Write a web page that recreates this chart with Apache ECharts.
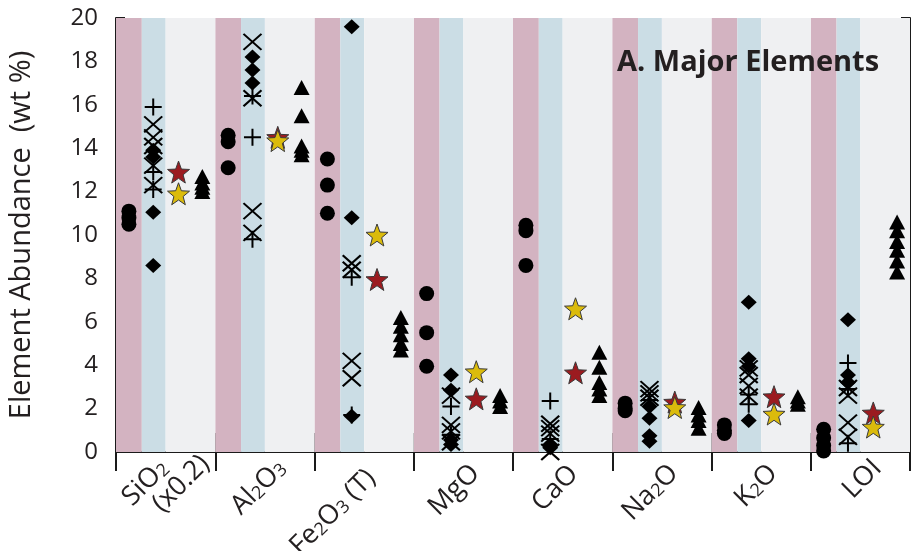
<!DOCTYPE html>
<html>
<head>
<meta charset="utf-8">
<script src="https://cdn.jsdelivr.net/npm/echarts@6/dist/echarts.min.js"></script>
<style>html,body{margin:0;padding:0;background:#fff}#c{width:911px;height:551px}</style>
</head>
<body>
<div id="c"></div>
<script>
// ---- data ----
const categories = ['SiO2 (x0.2)', 'Al2O3', 'Fe2O3 (T)', 'MgO', 'CaO', 'Na2O', 'K2O', 'LOI'];
const categoryLabels = ['SiO{s|2}{g44| }\n(x0.2){g12| }', 'Al{s|2}O{s|3}{g31| }', 'Fe{s|2}O{s|3} (T){g45| }', 'MgO{g38| }', 'CaO{g39| }', 'Na{s|2}O{g38| }', 'K{s|2}O{g38| }', 'LOI{g31| }'];
const yTicks = [0, 2, 4, 6, 8, 10, 12, 14, 16, 18, 20];
const circleVals = [
  [11.1, 10.8, 10.5],
  [14.6, 14.3, 13.1],
  [13.5, 12.3, 11.0],
  [7.3, 5.5, 3.95],
  [10.45, 10.2, 8.6],
  [2.25, 2.0, 1.9],
  [1.25, 1.0, 0.85],
  [1.05, 0.65, 0.3, 0.05]
];
const diamondVals = [
  [13.9, 13.6, 11.05, 8.6],
  [18.2, 17.6, 17.0],
  [19.6, 10.8, 1.65],
  [3.55, 2.85, 0.55, 0.35],
  [0.35, 0.2],
  [2.1, 1.55, 0.75, 0.5],
  [6.9, 4.3, 3.95, 1.45],
  [6.1, 3.55, 3.2]
];
const plusVals = [
  [15.9, 12.9, 12.1],
  [16.4, 14.5, 9.8],
  [8.05, 1.7],
  [2.1, 0.8],
  [2.35, 0.6],
  [2.4],
  [2.65, 2.2],
  [4.1, 2.9, 0.4]
];
const crossVals = [
  [15.1, 14.5, 14.1, 13.2, 12.3],
  [18.9, 16.3, 11.1, 10.1],
  [8.7, 8.4, 4.2, 3.4],
  [2.6, 1.25, 0.95, 0.45],
  [1.3, 1.1, 0.85, 0.0],
  [2.9, 2.7, 2.5],
  [3.85, 3.55, 3.05, 2.55],
  [2.95, 2.6, 1.35, 0.7]
];
const redStarVals = [12.9, 14.5, 7.95, 2.45, 3.65, 2.3, 2.55, 1.8];
const yellowStarVals = [11.9, 14.35, 10.0, 3.7, 6.6, 2.05, 1.75, 1.15];
const triangleVals = [
  [12.7, 12.4, 12.2, 12.0],
  [16.8, 15.5, 14.1, 13.9, 13.7],
  [6.2, 5.8, 5.4, 5.0, 4.7],
  [2.6, 2.35, 2.1],
  [4.6, 3.9, 3.2, 2.9, 2.6],
  [2.05, 1.7, 1.45, 1.1],
  [2.55, 2.35, 2.2],
  [10.6, 10.2, 9.7, 9.3, 8.8, 8.3]
];

// ---- layout helpers ----
const OFF = { circle: 0.13, blue: 0.375, star: 0.63, tri: 0.87 };
function pts(arr, off) {
  const out = [];
  arr.forEach((vals, i) => vals.forEach(v => out.push([i + off, v])));
  return out;
}
function pts1(arr, off) { return arr.map((v, i) => [i + off, v]); }

const pinkAreas = categories.map((c, i) => [{ xAxis: i }, { xAxis: i + 0.26 }]);
const blueAreas = categories.map((c, i) => [{ xAxis: i + 0.26 }, { xAxis: i + 0.5 }]);
const grayAreas = categories.map((c, i) => [{ xAxis: i + 0.5 }, { xAxis: i + 1 }]);

const starPath = 'path://M50,0 L62.3,32.9 L97.6,34.5 L70,56.5 L79.4,90.5 L50,71 L20.6,90.5 L30,56.5 L2.4,34.5 L37.7,32.9 Z';
const plusPath = 'path://M0,50 L100,50 M50,0 L50,100';
const crossPath = 'path://M0,0 L100,100 M100,0 L0,100';

const FONT = 'Open Sans';
const TXT = '#231f20';

const gapStyles = {};
[12, 31, 38, 39, 44, 45].forEach(w => { gapStyles['g' + w] = { width: w, fontSize: 27 }; });

const chart = echarts.init(document.getElementById('c'), null, { renderer: 'canvas' });
const axisLine = { show: true, lineStyle: { color: '#1a1a1a', width: 2 } };

chart.setOption({
  backgroundColor: '#ffffff',
  animation: false,
  textStyle: { fontFamily: FONT },
  title: {
    text: 'A. Major Elements',
    left: 612, top: 43,
    textStyle: { fontFamily: FONT, fontWeight: 'bold', fontSize: 29, color: TXT }
  },
  grid: { left: 116, right: 1, top: 18, bottom: 99, containLabel: false, outerBoundsMode: 'none' },
  xAxis: [
    {
      type: 'category', data: categories, position: 'bottom',
      boundaryGap: true,
      axisLine: axisLine,
      axisTick: { show: true, inside: true, length: 19, lineStyle: { color: '#1a1a1a', width: 2 } },
      splitLine: { show: false },
      axisLabel: {
        rotate: 45, margin: 29, fontSize: 27, lineHeight: 26, color: TXT, fontFamily: FONT,
        interval: 0, padding: [0, -55, 0, 0], hideOverlap: false,
        formatter: (v, i) => categoryLabels[i],
        rich: Object.assign({
          s: { fontSize: 18, color: TXT, fontFamily: FONT, verticalAlign: 'bottom', padding: [14, 0, 0, 0] }
        }, gapStyles)
      }
    },
    {
      type: 'value', position: 'top', min: 0, max: 8, interval: 1,
      axisLine: axisLine,
      axisTick: { show: true, inside: true, length: 19, lineStyle: { color: '#1a1a1a', width: 2 } },
      axisLabel: { show: false },
      splitLine: { show: false }
    }
  ],
  yAxis: [
    {
      type: 'value', min: 0, max: 20, interval: 2, position: 'left',
      name: 'Element Abundance  (wt %)', nameLocation: 'middle', nameGap: 80,
      nameTextStyle: { fontSize: 29, color: TXT, fontFamily: FONT },
      axisLine: axisLine,
      axisTick: { show: true, inside: true, length: 9, lineStyle: { color: '#1a1a1a', width: 2 } },
      axisLabel: { fontSize: 24, color: TXT, margin: 18, fontFamily: FONT,
        formatter: v => yTicks.indexOf(v) >= 0 ? String(v) : '' },
      splitLine: { show: false }
    },
    {
      type: 'value', min: 0, max: 20, interval: 2, position: 'right',
      axisLine: axisLine,
      axisTick: { show: true, inside: true, length: 9, lineStyle: { color: '#1a1a1a', width: 2 } },
      axisLabel: { show: false },
      splitLine: { show: false }
    }
  ],
  series: [
    {
      type: 'scatter', xAxisIndex: 1, yAxisIndex: 0, data: [], silent: true, z: 0,
      markArea: { silent: true, itemStyle: { color: '#d3b3c1' }, data: pinkAreas }
    },
    {
      type: 'scatter', xAxisIndex: 1, yAxisIndex: 0, data: [], silent: true, z: 0,
      markArea: { silent: true, itemStyle: { color: '#cbdde5' }, data: blueAreas }
    },
    {
      type: 'scatter', xAxisIndex: 1, yAxisIndex: 0, data: [], silent: true, z: 0,
      markArea: { silent: true, itemStyle: { color: '#eff0f2' }, data: grayAreas }
    },
    {
      name: 'circle', type: 'scatter', xAxisIndex: 1, data: pts(circleVals, OFF.circle),
      symbol: 'circle', symbolSize: 15, itemStyle: { color: '#000', opacity: 1 }, z: 3
    },
    {
      name: 'diamond', type: 'scatter', xAxisIndex: 1, data: pts(diamondVals, OFF.blue),
      symbol: 'diamond', symbolSize: [16, 15], itemStyle: { color: '#000', opacity: 1 }, z: 3
    },
    {
      name: 'plus', type: 'scatter', xAxisIndex: 1, data: pts(plusVals, OFF.blue),
      symbol: plusPath, symbolSize: 17,
      itemStyle: { color: 'rgba(0,0,0,0)', borderColor: '#000', borderWidth: 2, opacity: 1 }, z: 3
    },
    {
      name: 'cross', type: 'scatter', xAxisIndex: 1, data: pts(crossVals, OFF.blue),
      symbol: crossPath, symbolSize: [18, 16],
      itemStyle: { color: 'rgba(0,0,0,0)', borderColor: '#000', borderWidth: 2, opacity: 1 }, z: 3
    },
    {
      name: 'red star', type: 'scatter', xAxisIndex: 1, data: pts1(redStarVals, OFF.star),
      symbol: starPath, symbolSize: 22,
      itemStyle: { color: '#9b1b20', borderColor: '#3a3a3a', borderWidth: 1, opacity: 1 }, z: 4
    },
    {
      name: 'yellow star', type: 'scatter', xAxisIndex: 1, data: pts1(yellowStarVals, OFF.star),
      symbol: starPath, symbolSize: 22,
      itemStyle: { color: '#dbbb0c', borderColor: '#3a3a3a', borderWidth: 1, opacity: 1 }, z: 5
    },
    {
      name: 'triangle', type: 'scatter', xAxisIndex: 1, data: pts(triangleVals, OFF.tri),
      symbol: 'triangle', symbolSize: [16, 15], itemStyle: { color: '#000', opacity: 1 }, z: 3
    }
  ]
});
</script>
</body>
</html>
